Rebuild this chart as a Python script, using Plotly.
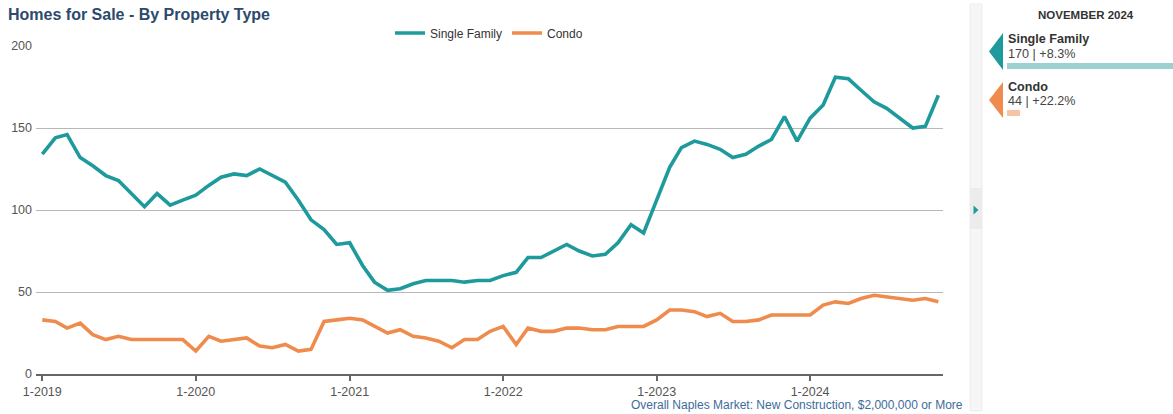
import plotly.graph_objects as go
import pandas as pd

# ---------------- data ----------------
months = pd.date_range("2019-01-01", "2024-11-01", freq="MS")

single_family = [
    134, 144, 146, 132, 127, 121, 118, 110, 102, 110, 103, 106,   # 2019
    109, 115, 120, 122, 121, 125, 121, 117, 106, 94, 88, 79,      # 2020
    80, 66, 56, 51, 52, 55, 57, 57, 57, 56, 57, 57,               # 2021
    60, 62, 71, 71, 75, 79, 75, 72, 73, 80, 91, 86,               # 2022
    106, 126, 138, 142, 140, 137, 132, 134, 139, 143, 157, 142,   # 2023
    156, 164, 181, 180, 173, 166, 162, 156, 150, 151, 170,        # 2024
]
condo = [
    33, 32, 28, 31, 24, 21, 23, 21, 21, 21, 21, 21,               # 2019
    14, 23, 20, 21, 22, 17, 16, 18, 14, 15, 32, 33,               # 2020
    34, 33, 29, 25, 27, 23, 22, 20, 16, 21, 21, 26,               # 2021
    29, 18, 28, 26, 26, 28, 28, 27, 27, 29, 29, 29,               # 2022
    33, 39, 39, 38, 35, 37, 32, 32, 33, 36, 36, 36,               # 2023
    36, 42, 44, 43, 46, 48, 47, 46, 45, 46, 44,                   # 2024
]

tick_dates = ["2019-01-01", "2020-01-01", "2021-01-01", "2022-01-01", "2023-01-01", "2024-01-01"]
tick_labels = ["1-2019", "1-2020", "1-2021", "1-2022", "1-2023", "1-2024"]
y_ticks = [0, 50, 100, 150, 200]

panel_month = "NOVEMBER 2024"
panel_names = ["Single Family", "Condo"]
panel_values = [170, 44]
panel_changes = ["+8.3%", "+22.2%"]

# ---------------- styles ----------------
TEAL = "#1f9a9c"
ORANGE = "#f08b4e"
TEAL_LIGHT = "#9dd0d0"
ORANGE_LIGHT = "#f7c4a3"
FONT = "Liberation Sans, Arial, sans-serif"

W, H = 1173, 414
ML, MB = 36, 40
PW = W - ML
PH = H - MB


def px(x):
    return (x - ML) / PW


def py(y):
    return (PH - y) / PH


fig = go.Figure()

fig.add_trace(go.Scatter(
    x=months, y=single_family, name="Single Family", mode="lines",
    line=dict(color=TEAL, width=3.6), hoverinfo="skip",
))
fig.add_trace(go.Scatter(
    x=months, y=condo, name="Condo", mode="lines",
    line=dict(color=ORANGE, width=3.6), hoverinfo="skip",
))

# side-panel bars
fig.add_trace(go.Bar(
    x=panel_values, y=[0, 1], orientation="h",
    marker=dict(color=[TEAL_LIGHT, ORANGE_LIGHT], line=dict(width=0)),
    width=0.128, xaxis="x2", yaxis="y2", showlegend=False, hoverinfo="skip",
))

shapes = []
# collapse strip
shapes.append(dict(type="rect", xref="paper", yref="paper",
                   x0=px(970), x1=px(982), y0=py(411), y1=py(4),
                   fillcolor="#f6f6f6", line=dict(color="#ececec", width=1), layer="below"))
shapes.append(dict(type="rect", xref="paper", yref="paper",
                   x0=px(970), x1=px(982), y0=py(229), y1=py(188),
                   fillcolor="#ececec", line=dict(width=0), layer="below"))
shapes.append(dict(type="path", xref="paper", yref="paper",
                   path=f"M {px(973.5)},{py(205.5)} L {px(978.5)},{py(210)} L {px(973.5)},{py(214.5)} Z",
                   fillcolor=TEAL, line=dict(width=0)))
# panel arrow markers
for (top, bot, col) in [(33, 70, TEAL), (82, 118, ORANGE)]:
    mid = (top + bot) / 2
    shapes.append(dict(type="path", xref="paper", yref="paper",
                       path=f"M {px(989)},{py(mid)} L {px(1003)},{py(top)} L {px(1003)},{py(bot)} Z",
                       fillcolor=col, line=dict(width=0)))

annotations = []
annotations.append(dict(text="<b>" + panel_month + "</b>", xref="paper", yref="paper",
                        x=px(1086), y=py(15), xanchor="center", yanchor="middle",
                        showarrow=False, font=dict(family=FONT, size=11.5, color="#333333")))
for i, (nm, v, ch) in enumerate(zip(panel_names, panel_values, panel_changes)):
    base = 39 + i * 48
    annotations.append(dict(text="<b>" + nm + "</b>", xref="paper", yref="paper",
                            x=px(1006), y=py(base), xanchor="left", yanchor="middle",
                            showarrow=False, font=dict(family=FONT, size=12.6, color="#333333")))
    annotations.append(dict(text=f"{v} | {ch}", xref="paper", yref="paper",
                            x=px(1006), y=py(base + 14.5), xanchor="left", yanchor="middle",
                            showarrow=False, font=dict(family=FONT, size=12.6, color="#444444")))
annotations.append(dict(text="Overall Naples Market: New Construction, $2,000,000 or More",
                        xref="paper", yref="paper", x=px(965), y=py(405),
                        xanchor="right", yanchor="middle", showarrow=False,
                        font=dict(family=FONT, size=12, color="#3e6b9b")))

fig.update_layout(
    template="none",
    width=W, height=H,
    margin=dict(l=ML, r=0, t=0, b=MB, pad=0, autoexpand=False),
    paper_bgcolor="white", plot_bgcolor="white",
    font=dict(family=FONT, size=12, color="#555555"),
    title=dict(text="<b>Homes for Sale - By Property Type</b>", x=8 / W, xref="container",
               xanchor="left", y=1 - 14 / H, yref="container", yanchor="middle",
               font=dict(family=FONT, size=16, color="#2c4a6c"), automargin=False),
    showlegend=True,
    legend=dict(orientation="h", x=px(489), xanchor="center", y=py(33), yanchor="middle",
                font=dict(family=FONT, size=12, color="#333333"), bgcolor="rgba(0,0,0,0)",
                itemwidth=30, tracegroupgap=0),
    xaxis=dict(domain=[0, px(943)], type="date", range=["2018-12-17", "2024-11-12"],
               tickvals=tick_dates, ticktext=tick_labels, showgrid=False, zeroline=False,
               showline=True, linecolor="#666666", linewidth=2,
               ticks="outside", ticklen=5, tickwidth=2, tickcolor="#666666",
               tickfont=dict(family=FONT, size=12.5, color="#555555"), anchor="y",
               automargin=False),
    yaxis=dict(domain=[0, py(46)], range=[0, 200], tickvals=y_ticks, showgrid=True,
               gridcolor="#b8b8b8", gridwidth=1, zeroline=False, showline=False,
               ticks="", ticklabelstandoff=3,
               tickfont=dict(family=FONT, size=12.5, color="#555555"), anchor="x",
               automargin=False),
    xaxis2=dict(domain=[px(1007), 1], range=[33.3, 170], visible=False, anchor="y2",
                fixedrange=True, automargin=False),
    yaxis2=dict(domain=[py(136.5), py(42.5)], range=[1.5, -0.5], visible=False, anchor="x2",
                fixedrange=True, automargin=False),
    shapes=shapes,
    annotations=annotations,
    hovermode=False,
)

fig.write_html("out.html")
